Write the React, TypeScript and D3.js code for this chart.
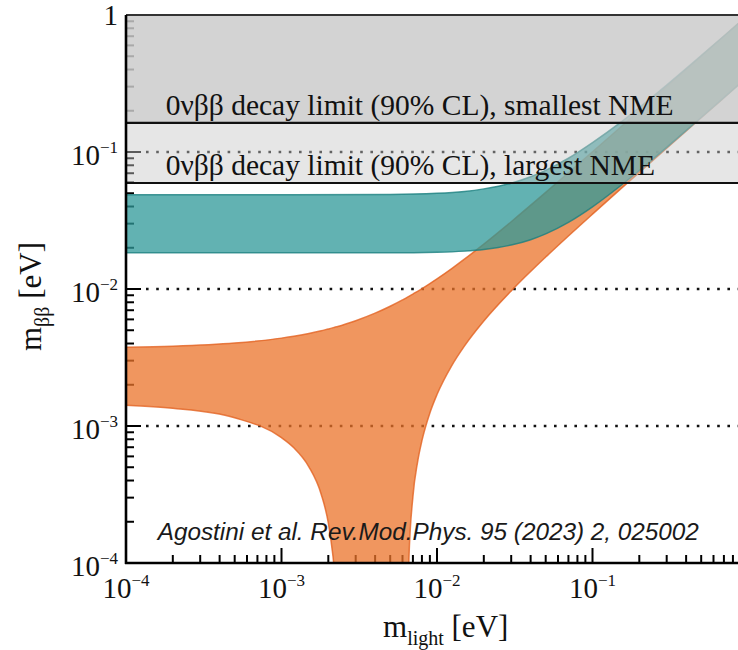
import React from 'react';
import * as d3 from 'd3';

const W = 738;
const H = 650;

// Normal ordering band (orange)
const massNO = [1e-4, 2e-4, 5e-4, 1e-3, 1.2e-3, 1.5e-3, 1.8e-3, 2e-3, 2.1e-3, 2.2e-3, 2.3e-3, 3e-3, 4e-3, 5e-3, 6e-3, 6.5e-3, 6.6e-3, 7e-3, 7.5e-3, 8e-3, 9e-3, 1e-2, 1.25e-2, 1.5e-2, 2e-2, 3e-2, 5e-2, 7e-2, 0.1, 0.15, 0.2, 0.3, 0.5, 0.7, 1];
const noUpper = [0.00375, 0.00382, 0.00403, 0.00438, 0.00452, 0.00474, 0.00496, 0.00511, 0.00518, 0.00526, 0.00533, 0.00587, 0.00666, 0.00748, 0.00832, 0.00875, 0.00884, 0.00919, 0.00962, 0.01006, 0.01096, 0.01186, 0.01416, 0.01651, 0.02128, 0.03099, 0.05068, 0.07051, 0.10037, 0.1503, 0.2002, 0.3001, 0.5001, 0.7, 1.0];
const noLower = [0.001415, 0.001347, 0.001148, 0.000822, 0.000694, 0.000504, 0.000318, 0.000196, 0.000135, 0.000075, 0.000014, 0.00001, 0.00001, 0.00001, 0.00001, 0.00006, 0.000108, 0.000305, 0.000546, 0.000781, 0.001245, 0.001696, 0.002784, 0.003829, 0.005836, 0.009681, 0.017104, 0.024388, 0.03519, 0.05309, 0.07092, 0.10658, 0.17772, 0.24887, 0.35557];

// Inverted ordering band (teal)
const massIO = [1e-4, 1e-3, 5e-3, 1e-2, 1.5e-2, 2e-2, 3e-2, 4e-2, 5e-2, 7e-2, 0.1, 0.15, 0.2, 0.3, 0.5, 0.7, 1];
const ioUpper = [0.0488, 0.0488, 0.0490, 0.0499, 0.0515, 0.0538, 0.0592, 0.0660, 0.0735, 0.0900, 0.1170, 0.1630, 0.2110, 0.3080, 0.5050, 0.7030, 1.0020];
const ioLower = [0.01837, 0.01836, 0.01836, 0.01854, 0.0189, 0.01943, 0.02092, 0.02291, 0.02525, 0.03065, 0.03979, 0.05624, 0.07332, 0.10816, 0.17869, 0.24955, 0.35604];

// 0vbb limits
const limitValues = [0.163, 0.0594];
const limitLabels = ['0νββ decay limit (90% CL), smallest NME', '0νββ decay limit (90% CL), largest NME'];

const majorTicks = [1e-4, 1e-3, 1e-2, 1e-1, 1];
const yTickExps = ['−4', '−3', '−2', '−1', ''];
const xLabelTicks = [1e-4, 1e-3, 1e-2, 1e-1];
const xTickExps = ['−4', '−3', '−2', '−1'];
const gridValues = [1e-3, 1e-2, 1e-1];
const citation = 'Agostini et al. Rev.Mod.Phys. 95 (2023) 2, 025002';

const SERIF = '"Liberation Serif", "DejaVu Serif", serif';
const SANS = '"Liberation Sans", Arial, sans-serif';

export default function App() {
  const x = d3.scaleLog().domain([1e-4, 1]).range([126, 748]);
  const y = d3.scaleLog().domain([1e-4, 1]).range([563, 15]);
  const x0 = x(1e-4);
  const y0 = y(1e-4);
  const xR = x(1);
  const yT = y(1);

  const areaPath = (ms: number[], lo: number[], hi: number[]) =>
    d3.area<number>()
      .x((_, i) => x(ms[i]))
      .y0((_, i) => y(lo[i]))
      .y1((_, i) => y(hi[i]))
      .curve(d3.curveMonotoneX)(ms) || '';
  const linePath = (ms: number[], vs: number[]) =>
    d3.line<number>()
      .x((_, i) => x(ms[i]))
      .y((_, i) => y(vs[i]))
      .curve(d3.curveMonotoneX)(ms) || '';

  const minor: number[] = [];
  for (let d = -4; d < 0; d++) for (let k = 2; k <= 9; k++) minor.push(k * Math.pow(10, d));

  const orangeFill = 'rgb(235,115,42)';
  const orangeEdge = 'rgb(226,98,32)';
  const tealFill = 'rgb(46,152,152)';
  const tealEdge = 'rgb(28,128,128)';

  return (
    <svg width={W} height={H} style={{ position: 'absolute', left: 0, top: 0, background: '#fff' }}
      xmlns="http://www.w3.org/2000/svg">
      <defs>
        <clipPath id="plot">
          <rect x={x0} y={yT} width={xR - x0} height={y0 - yT} />
        </clipPath>
      </defs>
      <rect x={0} y={0} width={W} height={H} fill="#fff" />

      {/* ticks (under bands) */}
      <g stroke="#000" strokeWidth={2}>
        {majorTicks.map((v, i) => (
          <g key={'maj' + i}>
            <line x1={x0} x2={x0 + 15} y1={y(v)} y2={y(v)} />
            <line x1={x(v)} x2={x(v)} y1={y0} y2={y0 - 15} />
          </g>
        ))}
        {minor.map((v, i) => (
          <g key={'min' + i}>
            <line x1={x0} x2={x0 + 8} y1={y(v)} y2={y(v)} />
            <line x1={x(v)} x2={x(v)} y1={y0} y2={y0 - 8} />
          </g>
        ))}
      </g>

      {/* dotted reference lines */}
      <g stroke="#111" strokeWidth={2.6} strokeDasharray="2.6 7.6">
        {gridValues.map((v, i) => (
          <line key={'g' + i} x1={x0 + 20} x2={xR} y1={y(v)} y2={y(v)} />
        ))}
      </g>

      <g clipPath="url(#plot)">
        {/* Normal ordering */}
        <path d={areaPath(massNO, noLower, noUpper)} fill={orangeFill} fillOpacity={0.75} />
        <path d={linePath(massNO, noUpper)} fill="none" stroke={orangeEdge} strokeWidth={1.5} strokeOpacity={0.8} />
        <path d={linePath(massNO, noLower)} fill="none" stroke={orangeEdge} strokeWidth={1.5} strokeOpacity={0.8} />
        {/* Inverted ordering */}
        <path d={areaPath(massIO, ioLower, ioUpper)} fill={tealFill} fillOpacity={0.75} />
        <path d={linePath(massIO, ioUpper)} fill="none" stroke={tealEdge} strokeWidth={1.5} strokeOpacity={0.8} />
        <path d={linePath(massIO, ioLower)} fill="none" stroke={tealEdge} strokeWidth={1.5} strokeOpacity={0.8} />

        {/* excluded regions */}
        <rect x={x0} y={yT} width={xR - x0} height={y(limitValues[1]) - yT} fill="#c8c8c8" fillOpacity={0.45} />
        <rect x={x0} y={yT} width={xR - x0} height={y(limitValues[0]) - yT} fill="#cbcbcb" fillOpacity={0.7} />
      </g>

      {/* limit lines */}
      {limitValues.map((v, i) => (
        <line key={'lim' + i} x1={x0} x2={xR} y1={y(v)} y2={y(v)} stroke="#111" strokeWidth={2.2} />
      ))}
      {limitLabels.map((t, i) => (
        <text key={'ll' + i} x={x(1.8e-4)} y={y(limitValues[i]) - 8} fontFamily={SERIF} fontSize={29.5} fill="#111">{t}</text>
      ))}

      {/* citation */}
      <text x={x(1.6e-4)} y={540} fontFamily={SANS} fontStyle="italic" fontSize={24.3} fill="#1a1a1a">{citation}</text>

      {/* spines */}
      <line x1={x0} x2={xR} y1={yT} y2={yT} stroke="#333" strokeWidth={1.8} />
      <line x1={x0} x2={x0} y1={yT} y2={y0 + 1} stroke="#000" strokeWidth={2.6} />
      <line x1={x0 - 1} x2={xR} y1={y0} y2={y0} stroke="#000" strokeWidth={2.6} />

      {/* y tick labels */}
      {majorTicks.map((v, i) => (
        <text key={'yl' + i} x={118} y={y(v) + (yTickExps[i] ? 13 : 10)} textAnchor="end" fontFamily={SERIF} fontSize={29} fill="#111">
          {yTickExps[i] ? (
            <>
              <tspan>10</tspan>
              <tspan dy={-12} fontSize={17}>{yTickExps[i]}</tspan>
            </>
          ) : '1'}
        </text>
      ))}

      {/* x tick labels */}
      {xLabelTicks.map((v, i) => (
        <text key={'xl' + i} x={x(v)} y={598} textAnchor="middle" fontFamily={SERIF} fontSize={29} fill="#111">
          <tspan>10</tspan>
          <tspan dy={-12} fontSize={17}>{xTickExps[i]}</tspan>
        </text>
      ))}

      {/* axis titles */}
      <text x={383} y={637} fontFamily={SERIF} fontSize={31} fill="#111">
        <tspan>m</tspan>
        <tspan fontSize={20} dy={8}>light</tspan>
        <tspan dy={-8}> [eV]</tspan>
      </text>
      <text transform="translate(41,351) rotate(-90)" fontFamily={SERIF} fontSize={31} fill="#111">
        <tspan>m</tspan>
        <tspan fontSize={20} dy={8}>ββ</tspan>
        <tspan dy={-8}> [eV]</tspan>
      </text>
    </svg>
  );
}
